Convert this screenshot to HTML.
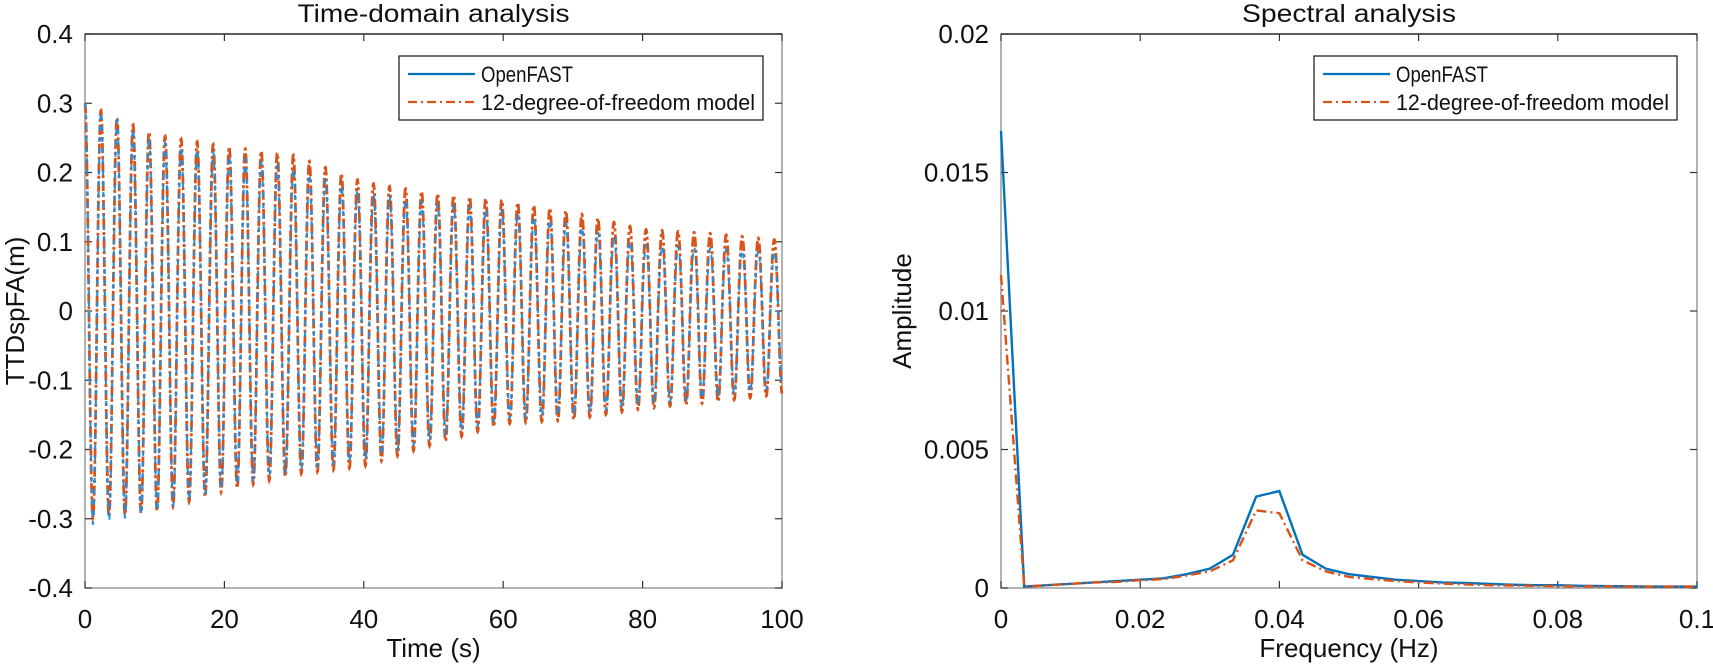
<!DOCTYPE html>
<html><head><meta charset="utf-8"><style>
html,body{margin:0;padding:0;background:#fff;}
svg{display:block;font-family:"Liberation Sans",sans-serif;}
</style></head><body>
<svg id="fig" width="1713" height="665" viewBox="0 0 1713 665"></svg>
<script>
// ---- Time-domain data ----
const envTimes = [0,10,20,30,40,50,60,70,80,90,100];
const openfastPeaks  = [0.30,0.245,0.225,0.205,0.17,0.155,0.145,0.125,0.095,0.09,0.085];
const openfastTroughs= [-0.31,-0.29,-0.255,-0.23,-0.215,-0.185,-0.155,-0.15,-0.135,-0.125,-0.11];
const dofPeaks  = [0.30,0.255,0.238,0.225,0.186,0.17,0.16,0.143,0.118,0.112,0.102];
const dofTroughs= [-0.30,-0.29,-0.26,-0.236,-0.224,-0.193,-0.163,-0.157,-0.141,-0.132,-0.12];
const oscPeriod = [2.30];
const timeTicks = [0,20,40,60,80,100];
const dispTicks = [-0.4,-0.3,-0.2,-0.1,0,0.1,0.2,0.3,0.4];
const dispTickLabels = ["-0.4","-0.3","-0.2","-0.1","0","0.1","0.2","0.3","0.4"];
// ---- Spectral data ----
const freqStep = [0.003333];
const openfastAmp = [0.0165,0.00005,0.0001,0.00015,0.0002,0.00025,0.0003,0.00035,0.0005,0.0007,0.0012,0.0033,0.0035,0.0012,0.0007,0.0005,0.0004,0.0003,0.00025,0.0002,0.00018,0.00015,0.00012,0.0001,0.0001,0.00008,0.00007,0.00006,0.00005,0.00005,0.00005];
const dofAmp = [0.0113,0.00005,0.0001,0.00015,0.0002,0.00022,0.00028,0.00032,0.00045,0.0006,0.001,0.0028,0.0027,0.001,0.0006,0.0004,0.00032,0.00025,0.0002,0.00016,0.00013,0.0001,0.00009,0.00008,0.00007,0.00006,0.00006,0.00005,0.00005,0.00005,0.00005];
const freqTicks = [0,0.02,0.04,0.06,0.08,0.1];
const freqTickLabels = ["0","0.02","0.04","0.06","0.08","0.1"];
const ampTicks = [0,0.005,0.01,0.015,0.02];
const ampTickLabels = ["0","0.005","0.01","0.015","0.02"];

const NS="http://www.w3.org/2000/svg";
const svg=document.getElementById('fig');
function mk(tag,attrs,parent){const e=document.createElementNS(NS,tag);for(const k in attrs)e.setAttribute(k,attrs[k]);(parent||svg).appendChild(e);return e;}
const BLUE="#0072BD", RED="#D95319";

function axes(name,L,R,T,B,xmin,xmax,ymin,ymax,xt,xtl,yt,ytl,title,titleLen,xlab,ylab,ylabX){
  const g=mk('g',{});
  
  
  const sx=v=>L+(v-xmin)/(xmax-xmin)*(R-L);
  const sy=v=>B-(v-ymin)/(ymax-ymin)*(B-T);
  const box=mk('rect',{x:L,y:T,width:R-L,height:B-T,fill:'none',stroke:'#8a8a8a','stroke-width':1.3},g);
  
  
  mk('line',{x1:L,x2:R,y1:T,y2:T,stroke:'#333','stroke-width':1.4},g);
  xt.forEach((v,i)=>{const x=sx(v);
    mk('line',{x1:x,x2:x,y1:B,y2:B-7,stroke:'#333','stroke-width':1.2},g);
    mk('line',{x1:x,x2:x,y1:T,y2:T+7,stroke:'#333','stroke-width':1.2},g);
    const t=mk('text',{x:x,y:B+40,'text-anchor':'middle','font-size':26,fill:'#111'},g);t.textContent=xtl[i];
    
    });
  yt.forEach((v,i)=>{const y=sy(v);
    mk('line',{x1:L,x2:L+7,y1:y,y2:y,stroke:'#333','stroke-width':1.2},g);
    mk('line',{x1:R,x2:R-7,y1:y,y2:y,stroke:'#333','stroke-width':1.2},g);
    const t=mk('text',{x:L-12,y:y+9,'text-anchor':'end','font-size':26,fill:'#111'},g);t.textContent=ytl[i];
    
    });
  const ti=mk('text',{x:(L+R)/2,y:22,'text-anchor':'middle','font-size':25,fill:'#111',textLength:titleLen,lengthAdjust:'spacingAndGlyphs'},g);ti.textContent=title;
  
  
  const xl=mk('text',{x:(L+R)/2,y:657,'text-anchor':'middle','font-size':26,fill:'#111'},g);xl.textContent=xlab;
  
  
  const yl=mk('text',{x:ylabX,y:(T+B)/2,'text-anchor':'middle','font-size':26,fill:'#111',transform:`rotate(-90 ${ylabX} ${(T+B)/2})`},g);yl.textContent=ylab;
  
  
  return {sx,sy,g};
}
function legend(x,y,w,h){
  const g=mk('g',{});
  
  
  mk('rect',{x:x,y:y,width:w,height:h,fill:'#fff',stroke:'#222','stroke-width':1.3},g);
  mk('line',{x1:x+9,x2:x+76,y1:y+18,y2:y+18,stroke:BLUE,'stroke-width':2.2},g);
  mk('line',{x1:x+9,x2:x+76,y1:y+46,y2:y+46,stroke:RED,'stroke-width':2.2,'stroke-dasharray':'9 4 2 4'},g);
  const a=mk('text',{x:x+82,y:y+26,'font-size':22,fill:'#111',textLength:92,lengthAdjust:'spacingAndGlyphs'},g);a.textContent='OpenFAST';
  
  
  const b=mk('text',{x:x+82,y:y+54,'font-size':22,fill:'#111',textLength:w-90,lengthAdjust:'spacingAndGlyphs'},g);b.textContent='12-degree-of-freedom model';
  
  
}
function envAt(t,arr){
  for(let i=0;i<envTimes.length-1;i++){if(t<=envTimes[i+1]){const f=(t-envTimes[i])/(envTimes[i+1]-envTimes[i]);return arr[i]+f*(arr[i+1]-arr[i]);}}
  return arr[arr.length-1];
}
function tsPath(ax,peaks,troughs,phase){
  let d='';const N=3000;
  for(let k=0;k<=N;k++){const t=k/N*100;const c=Math.cos(2*Math.PI*t/oscPeriod[0]+phase);
    const v=c>=0?c*envAt(t,peaks):-c*envAt(t,troughs);
    d+=(k?'L':'M')+ax.sx(t).toFixed(2)+','+ax.sy(v).toFixed(2);}
  return d;
}
// Left plot
const A=axes('time-domain-plot',85,782,34,588,0,100,-0.4,0.4,timeTicks,timeTicks.map(String),dispTicks,dispTickLabels,'Time-domain analysis',272,'Time (s)','TTDspFA(m)',24);
const p1=mk('path',{d:tsPath(A,dofPeaks,dofTroughs,0.03),fill:'none',stroke:RED,'stroke-width':2.8,'stroke-dasharray':'10 3 3 3'},A.g);


const p2=mk('path',{d:tsPath(A,openfastPeaks,openfastTroughs,0),fill:'none',stroke:'#1f8fe0','stroke-width':2,'stroke-dasharray':'5 6'},A.g);


legend(399,56,364,64);
// Right plot
const S=axes('spectral-plot',1001,1697,34,588,0,0.1,0,0.02,freqTicks,freqTickLabels,ampTicks,ampTickLabels,'Spectral analysis',214,'Frequency (Hz)','Amplitude',911);
function specPath(arr){return arr.map((v,i)=>(i?'L':'M')+S.sx(i*freqStep[0]).toFixed(2)+','+S.sy(v).toFixed(2)).join('');}
const s1=mk('path',{d:specPath(openfastAmp),fill:'none',stroke:BLUE,'stroke-width':2.4},S.g);


const s2=mk('path',{d:specPath(dofAmp),fill:'none',stroke:RED,'stroke-width':2.4,'stroke-dasharray':'10 4 2 4'},S.g);


legend(1314,56,363,64);
</script>
</body></html>
